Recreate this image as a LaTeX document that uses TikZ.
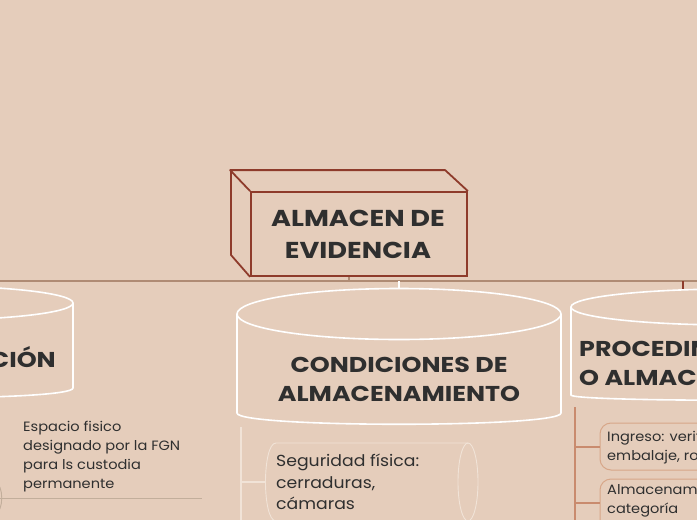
\documentclass[tikz,border=0pt]{standalone}
\usepackage{fontspec}
\setmainfont{Poppins}
\newfontfamily\widehead[FakeStretch=1.18]{Poppins}
\newfontfamily\widebody[FakeStretch=1.08]{Poppins}
\definecolor{bg}{HTML}{E5CDBB}
\definecolor{boxred}{HTML}{8E3B2B}
\definecolor{mainline}{HTML}{AF8B74}
\definecolor{ink}{HTML}{2F2F2F}
\definecolor{cylw}{HTML}{FFFFFF}
\definecolor{faint}{HTML}{F1E3D7}
\definecolor{rust}{HTML}{C98B6E}
\definecolor{tanline}{HTML}{D7A688}
\definecolor{greyline}{HTML}{C2AE9B}
\tikzset{
  titletext/.style={font=\widehead\bfseries\fontsize{23}{32}\selectfont, text=ink, align=center, inner sep=0pt},
  subtitle/.style={font=\widehead\bfseries\fontsize{21.5}{29}\selectfont, text=ink, align=center, inner sep=0pt},
  bodytext/.style={font=\widebody\fontsize{13.5}{19}\selectfont, text=ink, align=left, inner sep=0pt},
  cylline/.style={draw=cylw, line width=1.6pt},
  faintline/.style={draw=faint, line width=0.9pt},
}
\begin{document}
\begin{tikzpicture}[x=1pt,y=-1pt]
\useasboundingbox (0,0) rectangle (697,520);
\fill[bg] (0,0) rectangle (697,520);
\clip (0,0) rectangle (697,520);

% root 3D box
\node[draw=boxred, line width=1.8pt, minimum width=216pt, minimum height=84pt, inner sep=0pt] (root) at (359,234) {};
\draw[boxred, line width=1.8pt, line join=round] (root.north west) -- ++(-20,-21) -- ++(215,0) -- (root.north east);
\draw[boxred, line width=1.8pt, line join=round] (231,171) -- (231,255) -- (root.south west);
\node[titletext] (roottxt) at (358,234) {ALMACEN DE\\EVIDENCIA};

% main horizontal line
\coordinate (hl) at (0,281);
\coordinate (hr) at (697,281);
\coordinate (j0) at (349,281);
\coordinate (j1) at (399,281);
\coordinate (j2) at (683,281);
\draw[mainline, line width=1.6pt] (hl) -- (hr);
\draw[mainline, line width=1.6pt] (root.south -| j0) -- (j0);

% left cylinder
\draw[cylline] (-70,303) ellipse[x radius=143, y radius=17];
\draw[cylline] (73,303) -- (73,388) .. controls (73,401) and (-213,401) .. (-213,388);
\node[subtitle, anchor=east] (c1txt) at (56,357) {UBICACIÓN};

% center cylinder
\coordinate (c2top) at (399,289);
\draw[cylline] (399,314) ellipse[x radius=162, y radius=25.5];
\draw[cylline] (237,314) -- (237,413) .. controls (237,428) and (561,428) .. (561,413) -- (561,314);
\node[subtitle] (c2txt) at (399,379) {CONDICIONES DE\\ALMACENAMIENTO};
\draw[cylw, line width=1.4pt] (j1) -- (c2top);

% right cylinder
\coordinate (c3top) at (683,289);
\draw[cylline] (733,307) ellipse[x radius=162, y radius=18];
\draw[cylline] (571,307) -- (571,395) .. controls (571,402) and (895,402) .. (895,395);
\node[subtitle, anchor=west, align=left] (c3txt) at (579,363) {PROCEDIMIENTO DE\\O ALMACENAMIENTO};
\draw[boxred, line width=1.2pt] (j2) -- (c3top);

% left child
\node[bodytext, anchor=north west] (l1) at (23,421) {Espacio fisico\\designado por la FGN\\para ls custodia\\permanente};
\coordinate (l1a) at (0,498);
\coordinate (l1b) at (202,498);
\draw[greyline, line width=0.9pt] (l1a) -- (l1b);
\draw[greyline, line width=0.9pt] (-5,483) .. controls (4,483) and (4,513) .. (-5,513);

% center child
\coordinate (v2a) at (241,427);
\coordinate (v2b) at (241,520);
\draw[faint, line width=1.3pt] (v2a) -- (v2b);
\draw[faintline] (468,443) -- (276,443) .. controls (262,443) and (262,521) .. (276,521) -- (468,521);
\draw[faintline] (468,482) ellipse[x radius=10, y radius=39];
\node[bodytext, anchor=west, font=\widebody\fontsize{16}{21.5}\selectfont] (s1) at (276,482) {Seguridad física:\\cerraduras,\\cámaras};
\draw[faint, line width=1.3pt] (241,482) -- (266,482);

% right children
\coordinate (v3a) at (575,407);
\coordinate (v3b) at (575,520);
\draw[rust, line width=1.3pt] (v3a) -- (v3b);
\draw[tanline, line width=1pt, rounded corners=11pt] (600,423) rectangle (740,470);
\draw[tanline, line width=1pt, rounded corners=11pt] (600,479) rectangle (740,545);
\node[bodytext, anchor=west] (r1) at (607,447) {Ingreso: verificación de\\embalaje, rotulado};
\node[bodytext, anchor=north west] (r2) at (607,484) {Almacenamiento por\\categoría};
\draw[rust, line width=1.3pt] (575,447) -- (600,447);
\draw[rust, line width=1.3pt] (575,503) -- (600,503);
\end{tikzpicture}
\end{document}
